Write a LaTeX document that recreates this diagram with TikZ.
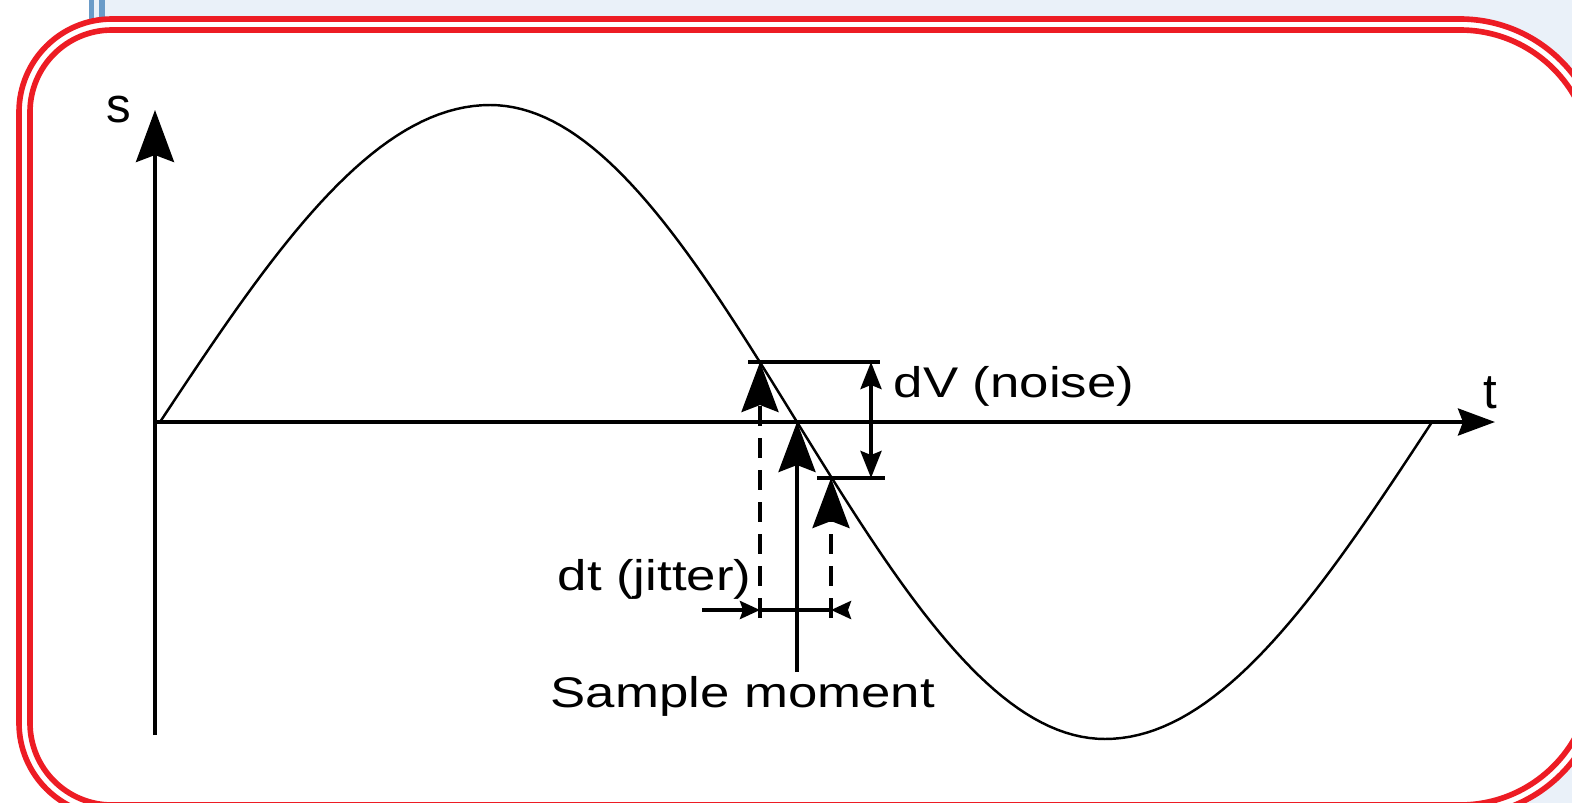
\documentclass[tikz,border=0pt]{standalone}
\usepackage{fontspec}
\setmainfont{Liberation Sans}
\newfontfamily\labelfont[FakeStretch=1.23]{Liberation Sans}
\usetikzlibrary{arrows.meta}
\definecolor{framered}{HTML}{ED1C24}
\definecolor{panelblue}{HTML}{EAF1F9}
\definecolor{barblue}{HTML}{6A9BC8}

\begin{document}
\begin{tikzpicture}[x=0.01cm, y=-0.01cm, every node/.style={inner sep=0pt},
  lbl/.style={font=\labelfont\fontsize{12.2}{14}\selectfont},
  axlbl/.style={font=\fontsize{14}{16}\selectfont},
  frame/.style={draw=framered, line width=1.6pt},
  axis/.style={line width=1.05pt},
  wave/.style={line width=0.7pt},
  shaft/.style={line width=1.05pt, -{Stealth[length=5mm, width=3.7mm, inset=0.7mm]}},
  probe/.style={shaft, dash pattern=on 2mm off 1.2mm},
  tick/.style={line width=1.05pt},
  dvarrow/.style={line width=1.05pt, {Stealth[length=2.7mm, width=2.1mm, inset=0.4mm]}-{Stealth[length=2.7mm, width=2.1mm, inset=0.4mm]}},
  jit/.style={line width=1.05pt, -{Stealth[length=2mm, width=1.8mm, inset=0.3mm]}}]
  \useasboundingbox (0,0) rectangle (1572,803);
  \clip (0,0) rectangle (1572,803);
  % page behind the frame
  \fill[white] (0,0) rectangle (1572,803);
  \fill[panelblue] (89,0) rectangle (1572,803);
  \fill[barblue] (89,0) rectangle (94,25);
  \fill[barblue] (99,0) rectangle (105,25);
  % double red frame
  \filldraw[frame, fill=white] (112,19) -- (1460,19) arc[start angle=-90, end angle=0, radius=143]
    -- (1603,673) arc[start angle=0, end angle=90, radius=143]
    -- (112,816) arc[start angle=90, end angle=180, radius=93]
    -- (19,112) arc[start angle=180, end angle=270, radius=93] -- cycle;
  \draw[frame] (112,30) -- (1460,30) arc[start angle=-90, end angle=0, radius=132]
    -- (1592,673) arc[start angle=0, end angle=90, radius=132]
    -- (112,805) arc[start angle=90, end angle=180, radius=82]
    -- (30,112) arc[start angle=180, end angle=270, radius=82] -- cycle;
  % axes
  \coordinate (origin) at (155,422);
  \coordinate (ytop) at (155,110);
  \coordinate (ybot) at (155,735);
  \coordinate (xend) at (1495,422);
  \draw[axis, -{Stealth[length=5.2mm, width=3.8mm, inset=0.7mm]}] (ybot) -- (ytop);
  \draw[axis, -{Stealth[length=3.7mm, width=2.7mm, inset=0.5mm]}] (origin) -- (xend);
  \node[axlbl, anchor=base] (slabel) at (119,122) {s};
  \node[axlbl, anchor=base] (tlabel) at (1490,408) {t};
  \draw[wave] plot[domain=0:90, samples=40] ({160+\x/90*330}, {422-317*sin(\x)})
    -- plot[domain=90:180, samples=40] ({490+(\x-90)/90*307}, {422-317*sin(\x)})
    -- plot[domain=180:270, samples=40] ({797+(\x-180)/90*308}, {422-317*sin(\x)})
    -- plot[domain=270:360, samples=40] ({1105+(\x-270)/90*327}, {422-317*sin(\x)});
  % noise
  \coordinate (hi) at (760,362);
  \coordinate (mid) at (797,422);
  \coordinate (lo) at (831,478);
  \coordinate (hitickL) at (748,362);
  \coordinate (hitickR) at (880,362);
  \coordinate (lotickL) at (817,478);
  \coordinate (lotickR) at (885,478);
  \coordinate (dvtop) at (871,362);
  \coordinate (dvbot) at (871,478);
  \draw[tick] (hitickL) -- (hitickR);
  \draw[tick] (lotickL) -- (lotickR);
  \draw[dvarrow] (dvtop) -- (dvbot);
  \node[lbl, anchor=base west] (noise) at (893,397) {dV (noise)};
  % sample arrows
  \coordinate (hifoot) at (760,618);
  \coordinate (lofoot) at (831,618);
  \coordinate (midfoot) at (797,672);
  \draw[probe] (hifoot) -- (hi);
  \draw[shaft] (midfoot) -- (mid);
  \draw[probe] (lofoot) -- (lo);
  % jitter
  \coordinate (jitstart) at (702,610);
  \coordinate (jitend) at (848,610);
  \coordinate (jitL) at (760,610);
  \coordinate (jitR) at (831,610);
  \draw[jit] (jitstart) -- (jitL);
  \draw[tick] (jitL) -- (jitR);
  \draw[jit] (jitend) -- (jitR);
  \node[lbl, anchor=base west] (jitter) at (557,590) {dt (jitter)};
  \node[lbl, anchor=base west] (sample) at (550,707) {Sample moment};
\end{tikzpicture}
\end{document}
